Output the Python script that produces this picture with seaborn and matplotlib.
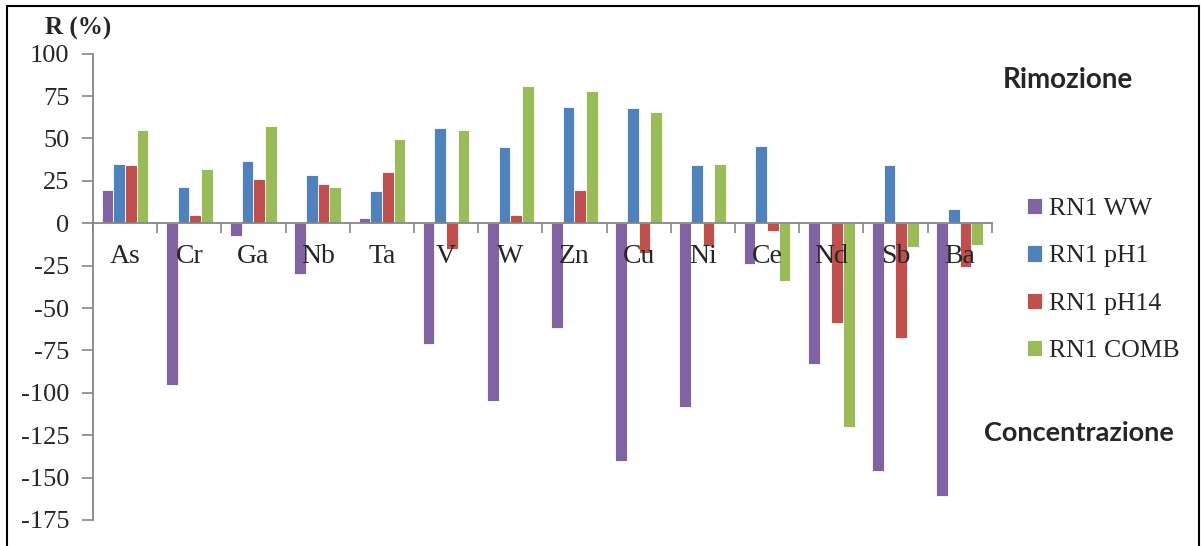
import matplotlib
matplotlib.use("Agg")
import matplotlib.pyplot as plt
import matplotlib.patches as mpatches
from matplotlib.ticker import FixedLocator, MultipleLocator
import pandas as pd
import seaborn as sns

elements = ["As", "Cr", "Ga", "Nb", "Ta", "V", "W", "Zn", "Cu", "Ni", "Ce", "Nd", "Sb", "Ba"]
rn1_ww = [19.5, -95.3, -7.5, -29.9, 3.1, -71.0, -105.0, -61.5, -140.1, -108.3, -23.8, -83.2, -145.9, -160.6]
rn1_ph1 = [35.1, 21.2, 36.7, 28.5, 19.2, 56.2, 45.2, 68.8, 67.8, 34.4, 45.6, 0.0, 34.6, 8.6]
rn1_ph14 = [34.2, 4.7, 26.1, 23.2, 30.2, -15.0, 4.9, 19.4, -17.3, -13.2, -4.7, -59.0, -67.8, -25.9]
rn1_comb = [54.8, 31.8, 57.5, 21.6, 49.7, 54.8, 81.0, 78.0, 65.6, 35.1, -33.8, -120.1, -13.8, -13.0]

series = ["RN1 WW", "RN1 pH1", "RN1 pH14", "RN1 COMB"]
colors = ["#8064A2", "#4F81BD", "#C0504D", "#9BBB59"]

df = pd.concat([
    pd.DataFrame({"element": elements, "R": vals, "series": name})
    for name, vals in zip(series, [rn1_ww, rn1_ph1, rn1_ph14, rn1_comb])
])

sns.set_theme(style="white")
plt.rcParams["font.family"] = ["Liberation Serif", "DejaVu Serif"]
plt.rcParams["axes.unicode_minus"] = False

fig = plt.figure(figsize=(12.01, 5.46), dpi=100)
ax = fig.add_axes([93 / 1201, 1 - 520 / 546, (991.7 - 93) / 1201, (520 - 53.7) / 546])

sns.barplot(data=df, x="element", y="R", hue="series", palette=colors, order=elements,
            hue_order=series, width=0.727, saturation=1, ax=ax,
            edgecolor="white", linewidth=0.6, legend=True)

axis_grey = "#868686"
ax.set_axisbelow(False)
ax.set_ylim(-175, 100)
ax.set_xlim(-0.5, len(elements) - 0.5)
ax.yaxis.set_major_locator(MultipleLocator(25))
ax.tick_params(axis="y", which="major", direction="out", length=8, width=1.2,
               color=axis_grey, labelsize=19, pad=9, left=True)
for sp in ["top", "right"]:
    ax.spines[sp].set_visible(False)
ax.spines["left"].set_color(axis_grey)
ax.spines["left"].set_linewidth(1.3)
ax.spines["bottom"].set_position(("data", 0))
ax.spines["bottom"].set_color(axis_grey)
ax.spines["bottom"].set_linewidth(1.3)

ax.xaxis.set_minor_locator(FixedLocator([i - 0.5 for i in range(len(elements) + 1)]))
ax.tick_params(axis="x", which="major", length=0, labelsize=20, pad=15, bottom=True)
ax.tick_params(axis="x", which="minor", direction="out", length=7, width=1.2,
               color=axis_grey, bottom=True)
ax.set_xlabel("")
ax.set_ylabel("")

handles, labels = ax.get_legend_handles_labels()
ax.legend(handles, labels, loc="center left", bbox_to_anchor=(1014 / 1201, 1 - 280 / 546),
          bbox_transform=fig.transFigure, frameon=False, fontsize=18.5, borderpad=0,
          handlelength=0.6, handleheight=0.6, handletextpad=0.25, labelspacing=0.98)

fig.text(45 / 1201, 1 - 28 / 546, "R (%)", fontsize=18, fontweight="bold",
         ha="left", va="center")
fig.text(1068 / 1201, 1 - 80 / 546, "Rimozione", fontsize=20, fontweight="bold",
         ha="center", va="center", family=["Lato", "DejaVu Sans"])
fig.text(1079 / 1201, 1 - 433 / 546, "Concentrazione", fontsize=19.5, fontweight="bold",
         ha="center", va="center", family=["Lato", "DejaVu Sans"])

fig.patches.append(mpatches.Rectangle((7 / 1201, -0.05), (1199 - 7) / 1201, 1.05 - 6 / 546,
                                      transform=fig.transFigure, fill=False,
                                      edgecolor="black", linewidth=1.5))

fig.savefig("out.png", dpi=100)
